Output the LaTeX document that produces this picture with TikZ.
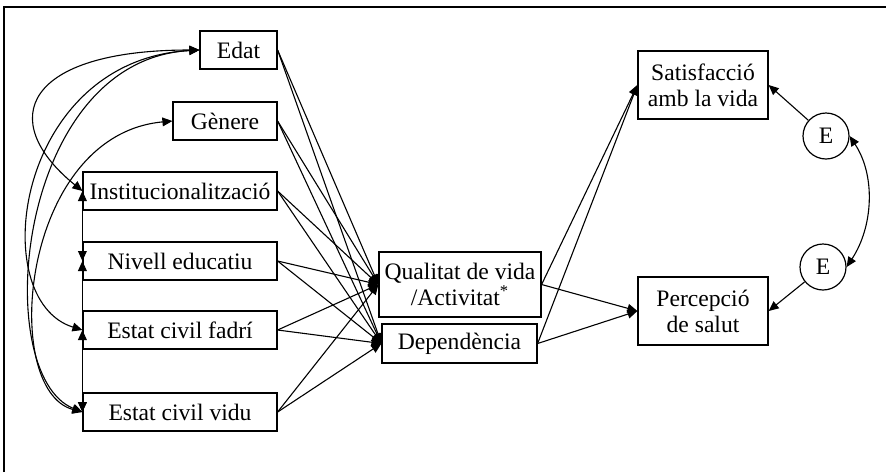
\documentclass[tikz,border=0pt]{standalone}
\usepackage{fontspec}
\setmainfont{Liberation Serif}
\usetikzlibrary{arrows.meta}
\tikzset{box/.style={draw, line width=0.6pt, inner sep=0pt, align=center, font=\fontsize{11.8}{13}\selectfont}}
\tikzset{var/.style={box, minimum width=97pt, minimum height=19pt}}
\tikzset{err/.style={draw, circle, line width=0.6pt, minimum size=23pt, inner sep=0pt, font=\fontsize{11.8}{13}\selectfont}}
\tikzset{arr/.style={line width=0.55pt, -{Triangle[length=5pt,width=4.4pt]}}}
\tikzset{both/.style={line width=0.55pt, {Triangle[length=5pt,width=4.4pt]}-{Triangle[length=5pt,width=4.4pt]}}}

\begin{document}
\begin{tikzpicture}[x=0.5pt, y=-0.5pt]
		\useasboundingbox (0,0) rectangle (886,472);
		\draw[line width=0.6pt] (4,472) -- (4,7) -- (886,7);
		% exogenous variables
		\node[box, minimum width=38.5pt, minimum height=19pt] (edat) at (238.5,50) {Edat};
		\node[box, minimum width=52pt, minimum height=19pt] (genere) at (225,121) {Gènere};
		\node[var] (inst) at (180,191) {Institucionalització};
		\node[var] (nivell) at (180,261) {Nivell educatiu};
		\node[var] (fadri) at (180,330) {Estat civil fadrí};
		\node[var] (vidu) at (180,412) {Estat civil vidu};
		% mediators and outcomes
		\node[box, minimum width=81pt, minimum height=32.5pt] (qual) at (460,284.5) {Qualitat de vida\\/Activitat\textsuperscript{*}};
		\node[box, minimum width=77.5pt, minimum height=19.5pt] (dep) at (459.5,343.5) {Dependència};
		\node[box, minimum width=65pt, minimum height=34pt] (sat) at (703,85) {Satisfacció\\amb la vida};
		\node[box, minimum width=65pt, minimum height=34pt] (perc) at (703,311) {Percepció\\de salut};
		\node[err] (e1) at (826,136) {E};
		\node[err] (e2) at (823,267) {E};
		\foreach \n in {edat, genere, inst, nivell, fadri, vidu} { \draw[arr] (\n.east) -- (qual.west); \draw[arr] (\n.east) -- (dep.west); }
		\foreach \m in {qual, dep} { \draw[arr] (\m.east) -- (sat.west); \draw[arr] (\m.east) -- (perc.west); }
		\draw[arr] (e1) -- (sat.east);
		\draw[arr] (e2) -- (perc.east);
		\draw[both] (e1.east) .. controls (876,176) and (873,227) .. (e2.east);
		% correlations
		\draw[both] (edat.west) .. controls (25,50) and (-5,120) .. (inst.west);
		\draw[both] (edat.west) .. controls (15,60) and (-15,300) .. (fadri.west);
		\draw[both] (edat.west) .. controls (15,60) and (-10,375) .. (vidu.west);
		\draw[both] (genere.west) .. controls (20,135) and (0,390) .. (vidu.west);
		\draw[both] (inst.west) -- (nivell.west);
		\draw[both] (nivell.west) -- (vidu.west);
		\draw[both] (fadri.west) -- (vidu.west);
	\end{tikzpicture}
\end{document}
